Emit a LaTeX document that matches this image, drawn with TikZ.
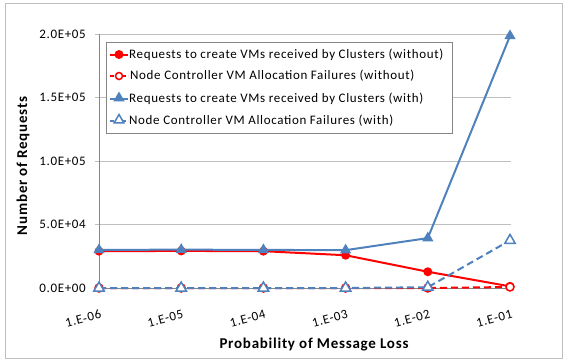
\documentclass[tikz,border=0pt]{standalone}
\usepackage{fontspec}
\setmainfont{Carlito}
\newfontfamily\lblfont[LetterSpace=5]{Carlito}
\usetikzlibrary{shapes.geometric}
\definecolor{xred}{RGB}{255,0,0}
\definecolor{xblue}{RGB}{79,129,189}
\definecolor{gridc}{RGB}{190,190,190}
\definecolor{axc}{RGB}{134,134,134}
\begin{document}
\begin{tikzpicture}[x=1pt,y=-1pt,
  lbl/.style={font=\lblfont\fontsize{13}{15}\selectfont, inner sep=0pt},
  ttl/.style={font=\lblfont\fontsize{15}{17}\selectfont\bfseries, inner sep=0pt},
  grid/.style={draw=gridc, line width=0.8pt},
  axis/.style={draw=axc, line width=0.8pt},
  redline/.style={draw=xred, line width=2pt},
  reddash/.style={draw=xred, line width=2pt, dash pattern=on 7pt off 4pt},
  blueline/.style={draw=xblue, line width=2pt},
  bluedash/.style={draw=xblue, line width=2pt, dash pattern=on 7pt off 4pt},
  fcirc/.style={circle, fill=xred, inner sep=0pt, minimum size=9pt},
  ocirc/.style={circle, draw=xred, fill=white, line width=1.5pt, inner sep=0pt, minimum size=8pt},
  ftri/.style={regular polygon, regular polygon sides=3, fill=xblue, inner sep=0pt, minimum size=13pt},
  otri/.style={regular polygon, regular polygon sides=3, draw=xblue, fill=white, line width=1.5pt, inner sep=0pt, minimum size=12pt}
]
\useasboundingbox (0,0) rectangle (566,360);
\draw[draw=gridc, line width=0.8pt] (5,3) rectangle (562,358);
% gridlines
\foreach \yv/\lab in {34/2.0E+05, 97.5/1.5E+05, 161/1.0E+05, 224.5/5.0E+04} {
  \draw[grid] (95,\yv) -- (511,\yv);
  \node[lbl, anchor=east] at (86,\yv) {\lab};
}
\node[lbl, anchor=east] at (86,288) {0.0E+00};
\draw[axis] (95,288) -- (511,288);
\draw[axis] (99,34) -- (99,288);
% x tick labels
\foreach \xv/\lab in {99/1.E-06, 181.2/1.E-05, 263.4/1.E-04, 345.6/1.E-03, 427.8/1.E-02, 510/1.E-01} {
  \node[lbl, anchor=east, rotate=15] at (\xv+2,314) {\lab};
}
\node[ttl] (xt) at (314,345) {Probability of Message Loss};
\node[ttl, rotate=90] (yt) at (23,166) {Number of Requests};
% red solid (without), values in thousands
\coordinate (r1) at (99,{288-29.0*1.27});
\coordinate (r2) at (181.2,{288-29.2*1.27});
\coordinate (r3) at (263.4,{288-29.0*1.27});
\coordinate (r4) at (345.6,{288-25.8*1.27});
\coordinate (r5) at (427.8,{288-12.8*1.27});
\coordinate (r6) at (510,{288-1.3*1.27});
\draw[redline] (r1) -- (r2) -- (r3) -- (r4) -- (r5) -- (r6);
\foreach \c in {r1,r2,r3,r4,r5,r6} \node[fcirc] at (\c) {};
% red dashed
\coordinate (d1) at (99,288);
\coordinate (d2) at (181.2,288);
\coordinate (d3) at (263.4,288);
\coordinate (d4) at (345.6,288);
\coordinate (d5) at (427.8,288);
\coordinate (d6) at (510,{288-0.8*1.27});
\draw[reddash] (d1) -- (d2) -- (d3) -- (d4) -- (d5) -- (d6);
\foreach \c in {d1,d2,d3,d4,d5,d6} \node[ocirc] at (\c) {};
% blue solid
\coordinate (b1) at (99,{288-30.0*1.27});
\coordinate (b2) at (181.2,{288-30.2*1.27});
\coordinate (b3) at (263.4,{288-30.0*1.27});
\coordinate (b4) at (345.6,{288-29.8*1.27});
\coordinate (b5) at (427.8,{288-39.3*1.27});
\coordinate (b6) at (510,{288-198.5*1.27});
\draw[blueline] (b1) -- (b2) -- (b3) -- (b4) -- (b5) -- (b6);
\foreach \c in {b1,b2,b3,b4,b5,b6} \node[ftri] at (\c) {};
% blue dashed
\coordinate (e1) at (99,288);
\coordinate (e2) at (181.2,288);
\coordinate (e3) at (263.4,288);
\coordinate (e4) at (345.6,288);
\coordinate (e5) at (427.8,{288-0.6*1.27});
\coordinate (e6) at (510,{288-37.5*1.27});
\draw[bluedash] (e1) -- (e2) -- (e3) -- (e4) -- (e5) -- (e6);
\foreach \c in {e1,e2,e3,e4,e5,e6} \node[otri] at (\c) {};
% legend
\draw[draw=axc, fill=white, line width=0.8pt] (106,42.5) rectangle (452,133.5);
\draw[redline] (110,54.5) -- (128,54.5); \node[fcirc] at (119,54.5) {};
\node[lbl, anchor=west] (l1) at (129,54.5) {Requests to create VMs received by Clusters (without)};
\draw[reddash, dash pattern=on 4pt off 2pt] (110,76) -- (128,76); \node[ocirc, minimum size=7pt] at (119,76) {};
\node[lbl, anchor=west] (l2) at (130,76) {Node Controller VM Allocation Failures (without)};
\draw[blueline] (110,99) -- (128,99); \node[ftri] at (119,98) {};
\node[lbl, anchor=west] (l3) at (129,99) {Requests to create VMs received by Clusters (with)};
\draw[bluedash, dash pattern=on 4pt off 2pt] (110,121) -- (128,121); \node[otri, minimum size=11pt] at (119,120) {};
\node[lbl, anchor=west] (l4) at (129,121) {Node Controller VM Allocation Failures (with)};
\end{tikzpicture}
\end{document}
